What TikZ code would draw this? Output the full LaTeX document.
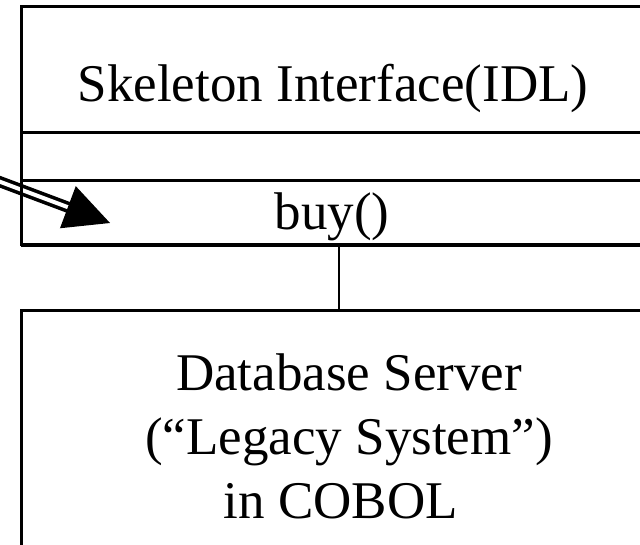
\documentclass[tikz,border=0pt]{standalone}
\usepackage{fontspec}
\setmainfont{Liberation Serif}
\usetikzlibrary{calc}
\begin{document}
\begin{tikzpicture}[x=1pt,y=1pt,
  compartment/.style={draw, line width=3pt, inner sep=0pt, outer sep=0pt,
                      minimum width=636pt},
  umltext/.style={inner sep=0pt, anchor=base, font=\fontsize{53}{64}\selectfont},
  link/.style={line width=2.4pt},
  dispatch/.style={draw=black, double=white, line width=3.6pt, double distance=4pt}
]
\useasboundingbox (0,0) rectangle (640,545);
\clip (0,0) rectangle (640,545);

% incoming call, drawn first so the class borders sit on top of it
\coordinate (src) at (-10,367);
\coordinate (tip) at (110,322);
\coordinate (base) at ($(tip)!45pt!(src)$);
\draw[dispatch] (src) -- ($(tip)!40pt!(src)$);
\fill ($(base)!22.5pt!90:(tip)$) -- (tip) -- ($(base)!22.5pt!-90:(tip)$) -- cycle;

% skeleton class: name, attribute and operation compartments
\node[compartment, minimum height=126pt] (name)   at (339,475) {};
\node[compartment, minimum height=48pt]  (attrs)  at (339,388) {};
\node[compartment, minimum height=64pt]  (method) at (339,332) {};
\draw[line width=4pt] (method.south west) -- (method.south east);

\node[umltext] (skeltitle) at (333,443) {Skeleton Interface(IDL)};
\node[umltext] (buy) at (332,315) {buy()};

% legacy database server
\node[compartment, minimum height=250pt] (db) at (339,109) {};
\node[umltext, align=center, anchor=north] (dbtext) at (349,191)
  {Database Server\\(“Legacy System”)\\in COBOL\hspace*{16pt}};

\draw[link] (method.south) -- (db.north);
\end{tikzpicture}
\end{document}
